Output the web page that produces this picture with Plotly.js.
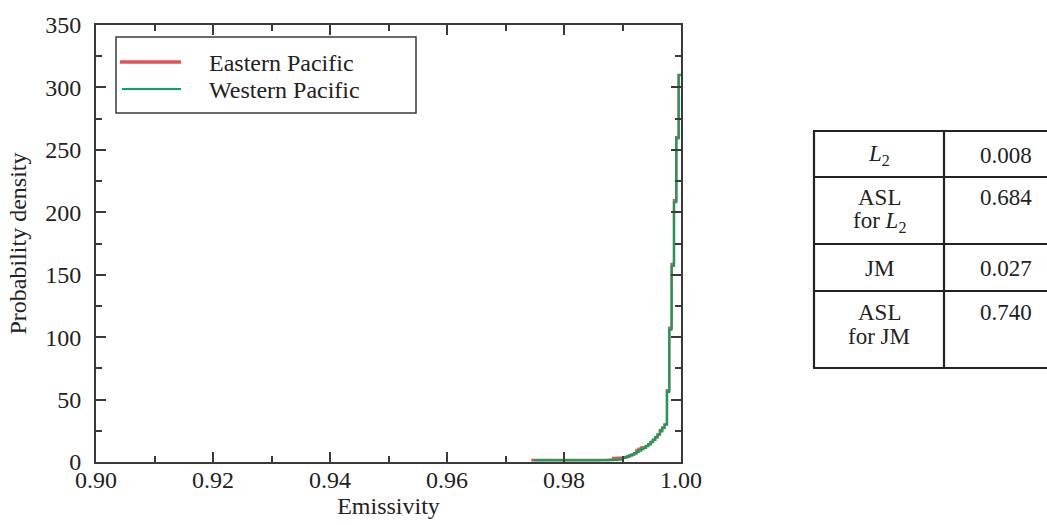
<!DOCTYPE html>
<html>
<head>
<meta charset="utf-8">
<script src="https://cdn.plot.ly/plotly-3.0.1.min.js"></script>
<style>html,body{margin:0;padding:0;background:#fff;}#chart{width:1047px;height:525px;}</style>
</head>
<body>
<div id="chart"></div>
<script>
// Bin edges of the emissivity histogram (65 edges -> 64 bins)
const binEdges = [0.9744,0.9748,0.9752,0.9756,0.9760,0.9764,0.9768,0.9772,0.9776,0.9780,
  0.9784,0.9788,0.9792,0.9796,0.9800,0.9804,0.9808,0.9812,0.9816,0.9820,
  0.9824,0.9828,0.9832,0.9836,0.9840,0.9844,0.9848,0.9852,0.9856,0.9860,
  0.9864,0.9868,0.9872,0.9876,0.9880,0.9884,0.9888,0.9892,0.9896,0.9900,
  0.9904,0.9908,0.9912,0.9916,0.9920,0.9924,0.9928,0.9932,0.9936,0.9940,
  0.9944,0.9948,0.9952,0.9956,0.9960,0.9964,0.9968,0.9972,0.9976,0.9980,
  0.9984,0.9988,0.9992,0.9996,1.0000];

// Probability density per bin
const easternDensity = [1.5,1.4,1.5,1.5,1.4,1.5,1.5,1.5,1.4,1.5,
  1.5,1.5,1.5,1.4,1.5,1.5,1.5,1.5,1.5,1.5,
  1.5,1.5,1.6,1.5,1.5,1.5,1.6,1.5,1.5,1.6,
  1.6,1.6,1.6,1.7,1.7,3.2,3.2,3.3,3.3,3.4,
  3.8,4.5,5.3,6.0,7.0,9.5,10.5,11.5,11.5,12.8,
  14.2,16.0,17.8,19.8,22.0,25.5,27.5,30.0,57.5,107.5,
  158.5,209.5,260.0,310.0];

const westernDensity = [null,1.5,1.5,1.5,1.5,1.5,1.5,1.5,1.5,1.5,
  1.5,1.5,1.5,1.5,1.5,1.5,1.5,1.5,1.5,1.5,
  1.5,1.5,1.5,1.5,1.5,1.5,1.5,1.5,1.5,1.5,
  1.5,1.5,1.5,1.6,1.6,1.6,1.7,1.8,1.9,3.2,
  3.8,4.5,5.3,6.0,7.0,8.0,9.1,10.2,11.5,12.8,
  14.2,16.0,17.8,19.8,22.0,24.5,27.5,30.0,56.0,106.0,
  157.0,208.0,259.0,310.0];

const seriesNames = ["Eastern Pacific", "Western Pacific"];
const xTickVals = [0.90,0.92,0.94,0.96,0.98,1.00];
const xTickText = ["0.90","0.92","0.94","0.96","0.98","1.00"];
const yTickVals = [0,50,100,150,200,250,300,350];
const yTickText = ["0","50","100","150","200","250","300","350"];

// Statistics table
const tableLabels = [["<i>L</i><sub>2</sub>"], ["ASL", "for <i>L</i><sub>2</sub>"], ["JM"], ["ASL", "for JM"]];
const tableValues = ["0.008", "0.684", "0.027", "0.740"];

const RED = "#E35252", GREEN = "#00A85C", AX = "#3a3a3a";
const FONT = "Liberation Serif, Times New Roman, serif";
const FS = 24, TFS = 23;

function stepTrace(vals, name, color, width) {
  return {
    type: "scatter", mode: "lines", name: name,
    x: binEdges, y: vals.concat([vals[vals.length - 1]]),
    line: {shape: "hv", color: color, width: width},
    hoverinfo: "skip", showlegend: false
  };
}

const data = [
  stepTrace(easternDensity, seriesNames[0], RED, 2.6),
  stepTrace(westernDensity, seriesNames[1], GREEN, 2)
];

// Layout geometry (pixels)
const W = 1047, H = 525, L = 96, R = 681, T = 25, B = 462;
const px = v => (v - L) / (R - L);
const py = v => (B - v) / (B - T);

const shapes = [];
const annotations = [];

// Legend box
shapes.push({type: "rect", xref: "paper", yref: "paper", x0: px(116), x1: px(416), y0: py(37), y1: py(113),
  line: {color: AX, width: 1.5}, fillcolor: "rgba(0,0,0,0)"});
const legendRows = [{y: 62, c: RED, w: 3.3, x0: 120}, {y: 89, c: GREEN, w: 2, x0: 122}];
legendRows.forEach((r, i) => {
  shapes.push({type: "line", xref: "paper", yref: "paper", x0: px(r.x0), x1: px(181), y0: py(r.y), y1: py(r.y),
    line: {color: r.c, width: r.w}});
  annotations.push({xref: "paper", yref: "paper", x: px(207), y: py(r.y + 1), xanchor: "left", yanchor: "middle",
    text: seriesNames[i], showarrow: false, font: {family: FONT, size: FS, color: "#222"}});
});

// Table
const colX = [814, 944, 1070];
const rowY = [131, 177, 244, 291, 368];
rowY.forEach(y => shapes.push({type: "line", xref: "paper", yref: "paper", x0: px(colX[0] - 1), x1: px(colX[2]),
  y0: py(y), y1: py(y), line: {color: "#222", width: 2.2}}));
colX.forEach(x => shapes.push({type: "line", xref: "paper", yref: "paper", x0: px(x), x1: px(x),
  y0: py(rowY[0]), y1: py(rowY[4]), line: {color: "#222", width: 2.2}}));
const c1 = (colX[0] + colX[1]) / 2, c2 = 1006;
tableLabels.forEach((lines, r) => {
  const top = rowY[r], bot = rowY[r + 1];
  let ys;
  if (lines.length === 1) ys = [(top + bot) / 2 + 1];
  else ys = [top + 21, top + 45];
  lines.forEach((t, k) => annotations.push({xref: "paper", yref: "paper", x: px(c1), y: py(ys[k]),
    xanchor: "center", yanchor: "middle", text: t, showarrow: false, font: {family: FONT, size: TFS, color: "#222"}}));
  annotations.push({xref: "paper", yref: "paper", x: px(c2), y: py(ys[0]), xanchor: "center", yanchor: "middle",
    text: tableValues[r], showarrow: false, font: {family: FONT, size: TFS, color: "#222"}});
});

const axisCommon = {
  showgrid: false, zeroline: false, showline: true, linecolor: AX, linewidth: 2,
  mirror: "allticks", ticks: "inside", ticklen: 10, tickwidth: 2, tickcolor: AX,
  tickfont: {family: FONT, size: FS, color: "#222"}
};

const layout = {
  width: W, height: H,
  margin: {l: L, r: W - R, t: T, b: H - B, pad: 0},
  paper_bgcolor: "#fff", plot_bgcolor: "#fff",
  showlegend: false,
  font: {family: FONT, size: FS, color: "#222"},
  xaxis: Object.assign({}, axisCommon, {
    range: [0.9, 1.0], tickmode: "array", tickvals: xTickVals, ticktext: xTickText,
    ticklabelstandoff: -5,
    minor: {dtick: 0.01, tick0: 0.9, ticks: "inside", ticklen: 6, tickwidth: 2, tickcolor: AX},
    title: {text: "Emissivity", font: {family: FONT, size: FS, color: "#222"}, standoff: 0}
  }),
  yaxis: Object.assign({}, axisCommon, {
    range: [0, 350], tickmode: "array", tickvals: yTickVals, ticktext: yTickText,
    ticklabelstandoff: 8,
    minor: {dtick: 25, tick0: 0, ticks: "inside", ticklen: 6, tickwidth: 2, tickcolor: AX},
    title: {text: "Probability density", font: {family: FONT, size: FS, color: "#222"}, standoff: 12}
  }),
  shapes: shapes,
  annotations: annotations
};

Plotly.newPlot("chart", data, layout, {displayModeBar: false, staticPlot: true});
</script>
</body>
</html>
